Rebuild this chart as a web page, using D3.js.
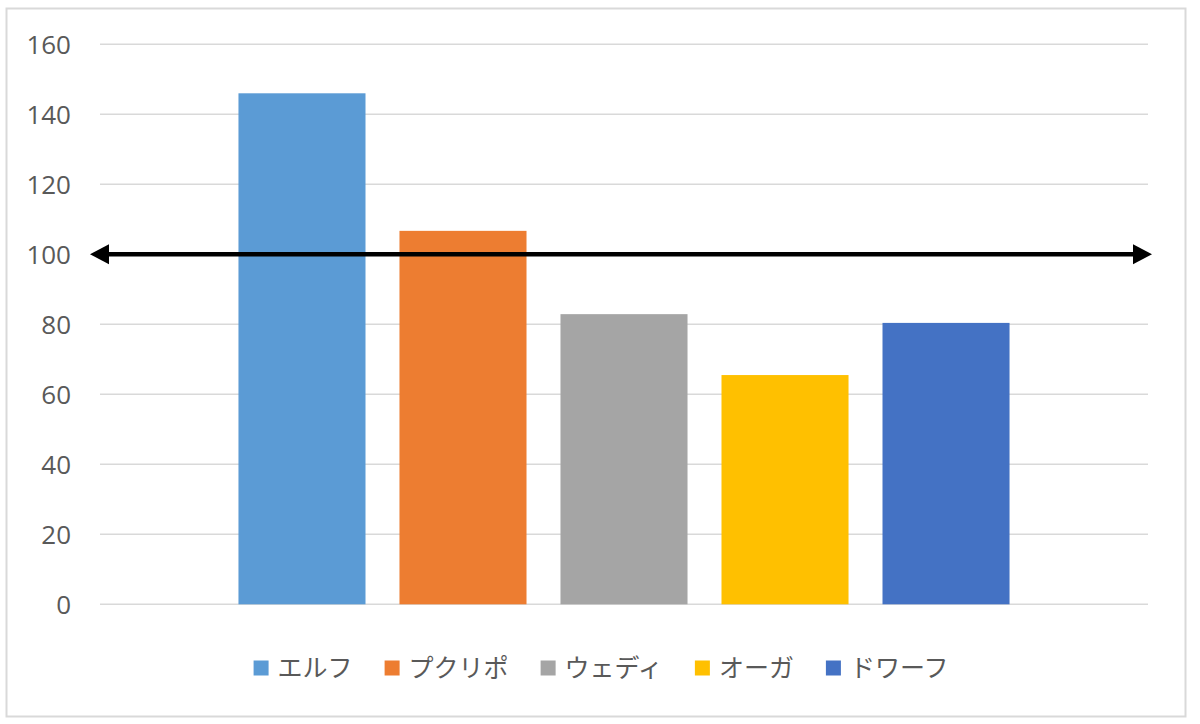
<!DOCTYPE html>
<html>
<head>
<meta charset="utf-8">
<script src="https://cdn.jsdelivr.net/npm/d3@7"></script>
<style>
  body { margin: 0; background: #fff; }
  svg { display: block; }
</style>
</head>
<body>
<svg id="chart" width="1200" height="724"></svg>
<script>
// 種族ごとの値
var races  = ['エルフ', 'プクリポ', 'ウェディ', 'オーガ', 'ドワーフ'],
    values = [146, 106.7, 82.9, 65.5, 80.4],
    colors = ['#5B9BD5', '#ED7D31', '#A5A5A5', '#FFC000', '#4472C4'],
    yTicks = [0, 20, 40, 60, 80, 100, 120, 140, 160],
    refValue = 100;

var svg = d3.select('#chart'),
    font = '"Noto Sans CJK JP", "Open Sans", sans-serif';

// 外枠
svg.append('rect')
    .attr('x', 6.5).attr('y', 8.5)
    .attr('width', 1179).attr('height', 708)
    .attr('fill', '#fff')
    .attr('stroke', '#D9D9D9')
    .attr('stroke-width', 2);

var plot = { left: 100, right: 1148, top: 44.3, bottom: 604.3 };

var y = d3.scaleLinear().domain([0, 160]).range([plot.bottom, plot.top]);
var x = d3.scaleBand().domain(races)
    .range([plot.left, plot.right])
    .paddingInner(0.211)
    .paddingOuter(0.86);

// 目盛り線
svg.append('g').selectAll('line')
    .data(yTicks).enter().append('line')
    .attr('x1', plot.left).attr('x2', plot.right)
    .attr('y1', function(d) { return y(d); })
    .attr('y2', function(d) { return y(d); })
    .attr('stroke', '#D9D9D9')
    .attr('stroke-width', 1.5);

// 目盛りラベル（d3の軸）
var yAxis = d3.axisLeft(y).tickValues(yTicks).tickSize(0).tickPadding(0);
var axisG = svg.append('g')
    .attr('transform', 'translate(71,0)')
    .call(yAxis);
axisG.select('.domain').remove();
axisG.selectAll('text')
    .attr('fill', '#595959')
    .attr('dy', '0.35em')
    .style('font-family', '"Open Sans", "Noto Sans", sans-serif')
    .style('font-size', '26px');

// 棒
svg.append('g').selectAll('rect')
    .data(races).enter().append('rect')
    .attr('x', function(d) { return x(d); })
    .attr('width', x.bandwidth())
    .attr('y', function(d, i) { return y(values[i]); })
    .attr('height', function(d, i) { return y(0) - y(values[i]); })
    .attr('fill', function(d, i) { return colors[i]; });

// 基準線の矢印（両端に三角）
var ay = y(refValue), ax1 = 90, ax2 = 1152, headL = 19, headH = 10;
var arrow = svg.append('g');
arrow.append('line')
    .attr('x1', ax1 + headL - 2).attr('x2', ax2 - headL + 2)
    .attr('y1', ay).attr('y2', ay)
    .attr('stroke', '#000')
    .attr('stroke-width', 4.5);
arrow.append('path')
    .attr('d', 'M' + ax1 + ',' + ay + 'L' + (ax1 + headL) + ',' + (ay - headH) +
               'L' + (ax1 + headL) + ',' + (ay + headH) + 'Z')
    .attr('fill', '#000');
arrow.append('path')
    .attr('d', 'M' + ax2 + ',' + ay + 'L' + (ax2 - headL) + ',' + (ay - headH) +
               'L' + (ax2 - headL) + ',' + (ay + headH) + 'Z')
    .attr('fill', '#000');

// 凡例
var legend = svg.append('g'),
    legendY = 668,
    box = 15, boxGap = 9, itemGap = 32;

var items = legend.selectAll('g')
    .data(races).enter().append('g');

items.append('rect')
    .attr('width', box).attr('height', box)
    .attr('y', legendY - box / 2)
    .attr('fill', function(d, i) { return colors[i]; });

items.append('text')
    .attr('x', box + boxGap)
    .attr('y', legendY)
    .attr('dy', '0.36em')
    .attr('fill', '#595959')
    .style('font-family', font)
    .style('font-size', '25px')
    .text(function(d) { return d; });

// 幅を測って中央に並べる
var offsets = [], total = 0;
items.each(function() {
    var w = this.getBBox().width;
    offsets.push(total);
    total += w + itemGap;
});
total -= itemGap;
var startX = 601 - total / 2;
items.attr('transform', function(d, i) { return 'translate(' + (startX + offsets[i]) + ',0)'; });
</script>
</body>
</html>
